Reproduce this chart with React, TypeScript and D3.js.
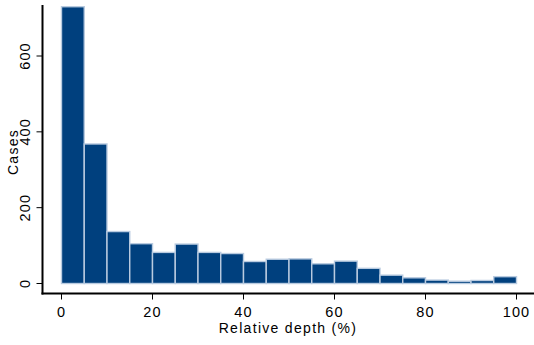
import React, { useEffect, useRef } from 'react';
import * as d3 from 'd3';

// bin starts (%), each bin is 5 wide
const binStarts = [0, 5, 10, 15, 20, 25, 30, 35, 40, 45, 50, 55, 60, 65, 70, 75, 80, 85, 90, 95];
const binCounts = [730, 368, 137, 105, 82, 104, 82, 79, 58, 64, 65, 52, 59, 40, 22, 15, 9, 6, 8, 18];
const xTicks = [0, 20, 40, 60, 80, 100];
const yTicks = [0, 200, 400, 600];

export default function App() {
  const ref = useRef<SVGSVGElement>(null);

  useEffect(() => {
    const width = 534;
    const height = 345;
    const font = '"Liberation Sans", Arial, sans-serif';

    const svg = d3.select(ref.current).attr('viewBox', [0, 0, width, height]);
    svg.selectAll('*').remove();

    const x = d3.scaleLinear().domain([0, 100]).range([61.5, 516.5]);
    const y = d3.scaleLinear().domain([0, 600]).range([283.5, 56]);

    const axisLeft = 42.5;
    const axisBottom = 293.5;

    // bars
    svg
      .append('g')
      .selectAll('rect')
      .data(binStarts)
      .enter()
      .append('rect')
      .attr('x', (d) => x(d))
      .attr('y', (d, i) => y(binCounts[i]))
      .attr('width', (d) => x(d + 5) - x(d))
      .attr('height', (d, i) => y(0) - y(binCounts[i]))
      .attr('fill', '#00407e')
      .attr('stroke', '#b9cbe0')
      .attr('stroke-width', 1.4);

    // axis lines
    svg
      .append('line')
      .attr('x1', axisLeft)
      .attr('x2', axisLeft)
      .attr('y1', 5)
      .attr('y2', axisBottom + 1)
      .attr('stroke', '#000')
      .attr('stroke-width', 2);
    svg
      .append('line')
      .attr('x1', axisLeft - 1)
      .attr('x2', width)
      .attr('y1', axisBottom)
      .attr('y2', axisBottom)
      .attr('stroke', '#000')
      .attr('stroke-width', 2);

    // y ticks
    const yg = svg.append('g');
    yg.selectAll('line')
      .data(yTicks)
      .enter()
      .append('line')
      .attr('x1', axisLeft - 6)
      .attr('x2', axisLeft)
      .attr('y1', (d) => y(d))
      .attr('y2', (d) => y(d))
      .attr('stroke', '#000')
      .attr('stroke-width', 1);
    yg.selectAll('text')
      .data(yTicks)
      .enter()
      .append('text')
      .attr('transform', (d) => `translate(30,${y(d)}) rotate(-90)`)
      .attr('text-anchor', 'middle')
      .style('font-family', font)
      .style('font-size', '14.5px')
      .style('letter-spacing', '1.1px')
      .text((d) => d);

    // x ticks
    const xg = svg.append('g');
    xg.selectAll('line')
      .data(xTicks)
      .enter()
      .append('line')
      .attr('x1', (d) => x(d))
      .attr('x2', (d) => x(d))
      .attr('y1', axisBottom)
      .attr('y2', axisBottom + 6)
      .attr('stroke', '#000')
      .attr('stroke-width', 1);
    xg.selectAll('text')
      .data(xTicks)
      .enter()
      .append('text')
      .attr('x', (d) => x(d))
      .attr('y', 317)
      .attr('text-anchor', 'middle')
      .style('font-family', font)
      .style('font-size', '14.5px')
      .style('letter-spacing', '1.1px')
      .text((d) => d);

    // axis titles
    svg
      .append('text')
      .attr('x', 288)
      .attr('y', 333)
      .attr('text-anchor', 'middle')
      .style('font-family', font)
      .style('font-size', '14px')
      .style('letter-spacing', '1.3px')
      .text('Relative depth (%)');
    svg
      .append('text')
      .attr('transform', 'translate(18,152) rotate(-90)')
      .attr('text-anchor', 'middle')
      .style('font-family', font)
      .style('font-size', '14px')
      .style('letter-spacing', '1.3px')
      .text('Cases');
  });

  return (
    <svg
      ref={ref}
      width={534}
      height={345}
      style={{ position: 'absolute', left: 0, top: 0, background: '#fff' }}
    />
  );
}
